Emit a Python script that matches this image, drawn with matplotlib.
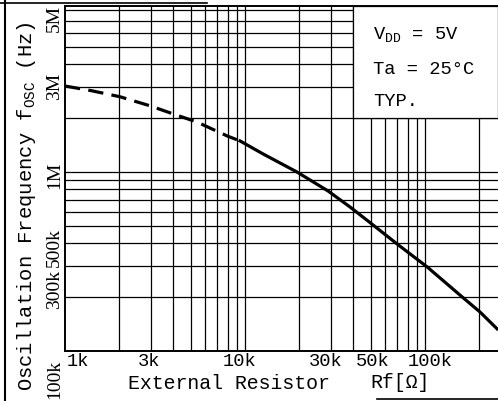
import matplotlib
matplotlib.use("Agg")
import matplotlib.pyplot as plt
from matplotlib.lines import Line2D
from matplotlib.patches import Rectangle
from matplotlib.transforms import blended_transform_factory, ScaledTranslation

# ---- data ----
r_kohm = [1, 1.41, 2.02, 2.97, 3.98, 5.41, 7.94, 9.38, 12.6, 19.4, 28.9, 38.3,
          48.2, 69.9, 103, 161, 202, 251]
f_hz = [3.02e6, 2.84e6, 2.63e6, 2.34e6, 2.11e6, 1.90e6, 1.59e6, 1.49e6, 1.26e6,
        1.0e6, 783e3, 637e3, 532e3, 396e3, 294e3, 200e3, 165e3, 133e3]
dash_end_kohm = 9.38

x_tick_vals = [1e3, 3e3, 1e4, 3e4, 5e4, 1e5]
x_tick_labels = ["1k", "3k", "10k", "30k", "50k", "100k"]
y_tick_vals = [1e5, 3e5, 5e5, 1e6, 3e6, 5e6]
y_tick_labels = ["100k", "300k", "500k", "1M", "3M", "5M"]

cond_lines = ["V$_\\mathregular{DD}$ = 5V", "Ta = 25°C", "TYP."]

xmin, xmax = 1e3, 2.54e5
ymin, ymax = 1e5, 8.45e6

MONO = "Liberation Mono"
W, H, DPI = 498, 402, 100
fig = plt.figure(figsize=(W / DPI, H / DPI), dpi=DPI)
fig.patch.set_facecolor("white")
L, R, B, T = 65, 498, 352, 7
ax = fig.add_axes([L / W, 1 - B / H, (R - L) / W, (B - T) / H])
ax.set_xscale("log")
ax.set_yscale("log")
ax.set_xlim(xmin, xmax)
ax.set_ylim(ymin, ymax)

# grid at every 1..9 x decade
grid_kw = dict(color="black", lw=0.9, zorder=1)
for dec in [1e3, 1e4, 1e5]:
    for m in range(1, 10):
        v = m * dec
        if xmin < v < xmax:
            ax.axvline(v, **grid_kw)
for dec in [1e5, 1e6]:
    for m in range(1, 10):
        v = m * dec
        if ymin < v < ymax:
            ax.axhline(v, **grid_kw)

# condition box (white, hiding the grid)
box = Rectangle((4e4, 2e6), xmax - 4e4, ymax - 2e6, facecolor="white",
                edgecolor="black", lw=0.9, zorder=2)
ax.add_patch(box)

# curve
rk = [v * 1e3 for v in r_kohm]
i_split = r_kohm.index(dash_end_kohm)
ax.plot(rk[:i_split + 1], f_hz[:i_split + 1], color="black", lw=2.3,
        dashes=(4.8, 2.6), zorder=4, solid_capstyle="butt")
ax.plot(rk[i_split:], f_hz[i_split:], color="black", lw=2.3, zorder=4,
        solid_joinstyle="round")

for s in ["left", "bottom", "top"]:
    ax.spines[s].set_linewidth(1.4)
ax.spines["right"].set_visible(False)
ax.set_xticks([])
ax.set_yticks([])
ax.minorticks_off()
ax.tick_params(which="both", length=0, labelbottom=False, labelleft=False)

# y tick labels (rotated, positioned as in reference)
ytr = blended_transform_factory(ax.transAxes, ax.transData)
y_va = ["top", "top", "top", "center", "center", "center"]
y_dy = [-8, -3, -1, -2, 1, 29]
for v, lab, va, dy in zip(y_tick_vals, y_tick_labels, y_va, y_dy):
    ax.text(-0.004, v, lab, rotation=90, ha="right", va=va,
            family="Liberation Serif", fontsize=14,
            transform=ytr + ScaledTranslation(0, dy / DPI, fig.dpi_scale_trans))

# x tick labels
xtr = blended_transform_factory(ax.transData, ax.transAxes)
x_ha = ["left", "center", "center", "center", "center", "center"]
x_dx = [2, -2, -5, -5, 2, 5]
for v, lab, ha, dx in zip(x_tick_vals, x_tick_labels, x_ha, x_dx):
    ax.text(v, 0, lab, ha=ha, va="top", family=MONO, fontsize=13.5,
            transform=xtr + ScaledTranslation(dx / DPI, -1 / DPI, fig.dpi_scale_trans))

# axis labels
fig.text(128 / W, 1 - 384 / H, "External Resistor", ha="left", va="center",
         family=MONO, fontsize=14.3)
fig.text(370 / W, 1 - 383 / H, "Rf[Ω]", ha="left", va="center",
         family=MONO, fontsize=14.3)
fig.text(27 / W, 1 - 206 / H, "Oscillation Frequency f$_\\mathregular{OSC}$ (Hz)",
         rotation=90, ha="center", va="center", family=MONO, fontsize=14.8)

# condition text
for txt, yc in zip(cond_lines, [35, 70, 102]):
    fig.text(373 / W, 1 - yc / H, txt, ha="left", va="center",
             family=MONO, fontsize=13.5)

# frame fragments
fig.add_artist(Line2D([5 / W, 5 / W], [0, 1], color="black", lw=1.5))
fig.add_artist(Line2D([0, 207 / W], [1 - 4 / H, 1 - 4 / H], color="black", lw=1.2))
fig.add_artist(Line2D([377 / W, 1], [1 - 400 / H, 1 - 400 / H], color="black", lw=1.2))

fig.savefig("out.png", dpi=DPI, facecolor="white")
